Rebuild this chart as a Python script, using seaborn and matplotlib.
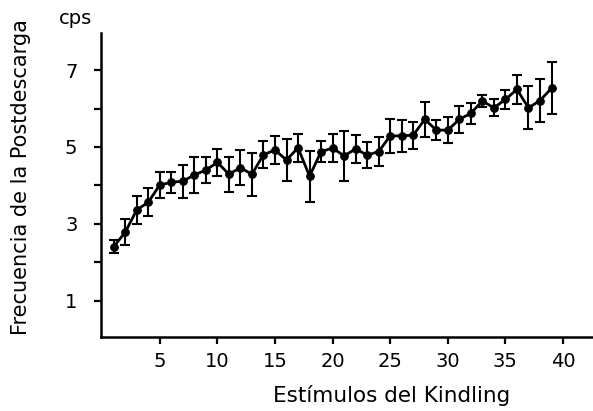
import numpy as np
import pandas as pd
import matplotlib
matplotlib.use("Agg")
import matplotlib.pyplot as plt
import seaborn as sns

estimulos = list(range(1, 40))
frecuencia = [2.40, 2.78, 3.36, 3.56, 4.01, 4.08, 4.11, 4.27, 4.40, 4.60,
              4.29, 4.46, 4.29, 4.80, 4.92, 4.66, 4.98, 4.24, 4.88, 4.97,
              4.77, 4.95, 4.79, 4.88, 5.29, 5.29, 5.31, 5.72, 5.44, 5.44,
              5.72, 5.88, 6.20, 6.02, 6.24, 6.50, 6.02, 6.21, 6.53]
error = [0.17, 0.34, 0.36, 0.36, 0.34, 0.27, 0.43, 0.46, 0.35, 0.36,
         0.46, 0.45, 0.56, 0.35, 0.37, 0.54, 0.36, 0.66, 0.27, 0.36,
         0.65, 0.37, 0.35, 0.37, 0.44, 0.41, 0.35, 0.46, 0.27, 0.33,
         0.36, 0.27, 0.15, 0.22, 0.25, 0.38, 0.56, 0.56, 0.68]
x_ticks = [5, 10, 15, 20, 25, 30, 35, 40]
y_ticks = [1, 3, 5, 7]

df = pd.DataFrame({"x": estimulos, "y": frecuencia, "err": error})

sns.set_style("white")
plt.rcParams['font.family'] = ['DejaVu Sans']
plt.rcParams['text.color'] = 'black'
plt.rcParams['axes.labelcolor'] = 'black'
plt.rcParams['xtick.color'] = 'black'
plt.rcParams['ytick.color'] = 'black'

fig = plt.figure(figsize=(5.93, 4.11), dpi=100)
ax = fig.add_axes([101/593, 1-337/411, 492/593, 304/411])

ax.errorbar(df["x"], df["y"], yerr=df["err"], fmt="none", ecolor="black",
            elinewidth=1.5, capsize=3.5, capthick=1.5, zorder=2)
sns.lineplot(data=df, x="x", y="y", ax=ax, color="black", linewidth=2,
             marker="o", markersize=5.5, markeredgecolor="black", zorder=3)

ax.set_xlim(-0.1, 42.6)
ax.set_ylim(0.05, 7.97)
ax.set_xticks(x_ticks)
ax.set_xticklabels([str(v) for v in x_ticks])
ax.set_yticks(y_ticks)
ax.set_yticklabels([str(v) for v in y_ticks])
ax.set_yticks([2, 4, 6], minor=True)

for s in ["top", "right"]:
    ax.spines[s].set_visible(False)
for s in ["left", "bottom"]:
    ax.spines[s].set_linewidth(1.8)
    ax.spines[s].set_color("black")

ax.tick_params(axis="x", which="major", direction="out", length=5, width=1.6,
               labelsize=14, pad=6, bottom=True)
ax.tick_params(axis="y", which="both", direction="out", length=5, width=1.6,
               labelsize=14, pad=12, left=True)

ax.set_xlabel("Estímulos del Kindling", fontsize=15.5)
ax.set_ylabel("Frecuencia de la Postdescarga", fontsize=15)
ax.xaxis.set_label_coords((392-101)/492, (337-385)/304)
ax.yaxis.set_label_coords((31-101)/492, (337-177.5)/304)

fig.text(75/593, 1-19/411, "cps", ha="center", va="center", fontsize=14)

fig.savefig("out.png", dpi=100)
